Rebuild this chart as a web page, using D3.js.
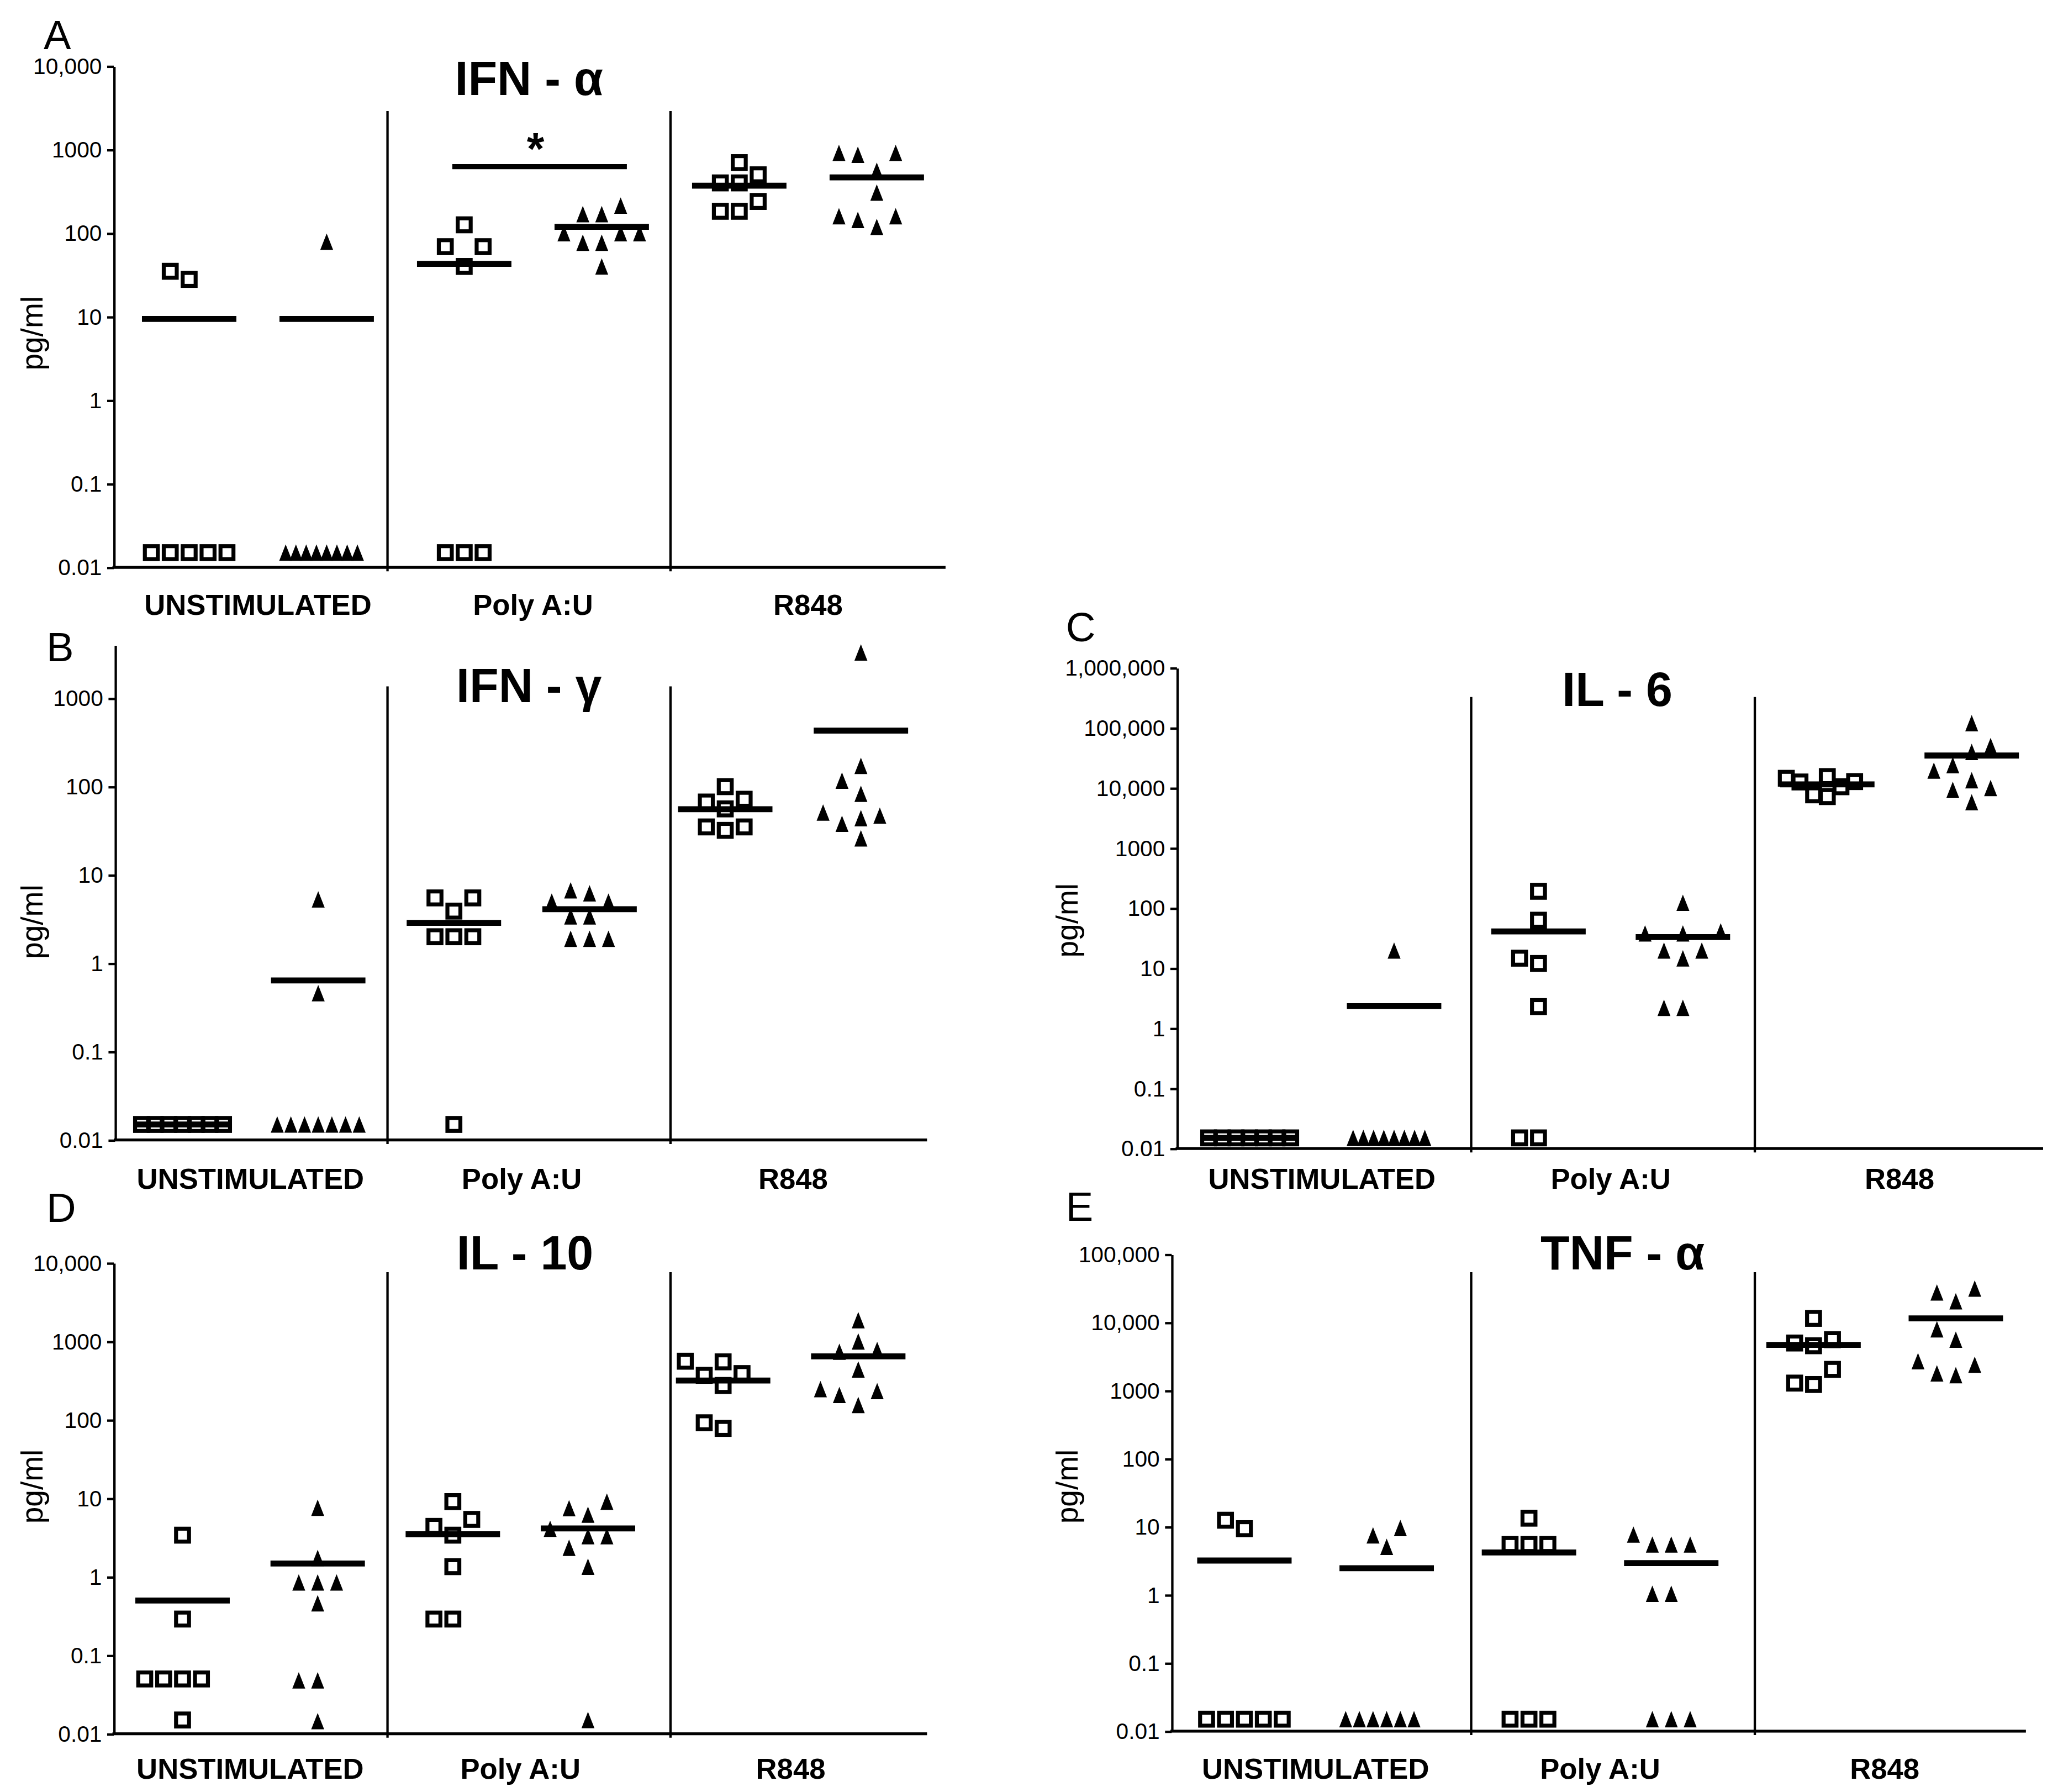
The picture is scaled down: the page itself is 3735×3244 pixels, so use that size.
<!DOCTYPE html>
<meta charset="utf-8">
<style>
html, body { margin: 0; padding: 0; background: #fff; }
svg { display: block; }
text { font-family: 'Liberation Sans', Arial, Helvetica, sans-serif; fill: #000; }
</style>
<body>
<script src="https://cdn.jsdelivr.net/npm/d3@7/dist/d3.min.js"></script>
<script>
// categories and the six columns of each panel (open squares / filled triangles)
var categories = ["UNSTIMULATED", "Poly A:U", "R848"];
var columns = ["unstim_sq", "unstim_tri", "poly_sq", "poly_tri", "r848_sq", "r848_tri"];
var shapes = ["square", "triangle", "square", "triangle", "square", "triangle"];

// values in pg/ml (0.015 = below detection row)
var ifnAlpha = [
  [35, 28, 0.015, 0.015, 0.015, 0.015, 0.015],
  [79, 0.015, 0.015, 0.015, 0.015, 0.015, 0.015, 0.015, 0.015],
  [126, 69, 69, 40, 0.015, 0.015, 0.015],
  [214, 169, 169, 100, 100, 100, 77, 77, 40],
  [700, 500, 400, 400, 240, 183, 183],
  [915, 915, 870, 560, 306, 160, 160, 144, 119]
];
var ifnAlphaMeans = [9.4, 9.4, 43, 119, 371, 465];

var ifnGamma = [
  [0.015, 0.015, 0.015, 0.015, 0.015, 0.015, 0.015],
  [5.3, 0.46, 0.015, 0.015, 0.015, 0.015, 0.015, 0.015, 0.015],
  [5.5, 5.5, 3.9, 2.0, 2.0, 2.0, 0.015],
  [6.7, 6.2, 5.0, 5.0, 3.4, 3.4, 1.9, 1.9, 1.9],
  [100, 72, 67, 56, 35, 35, 32],
  [3300, 172, 117, 83, 51, 47, 44, 38, 26]
];
var ifnGammaMeans = [0.015, 0.64, 2.87, 4.1, 55.5, 430];

var il6 = [
  [0.015, 0.015, 0.015, 0.015, 0.015, 0.015, 0.015],
  [19.7, 0.015, 0.015, 0.015, 0.015, 0.015, 0.015, 0.015, 0.015],
  [191, 63, 14.7, 12, 2.3, 0.015, 0.015],
  [123, 41, 38, 38, 19.7, 19.7, 14.6, 2.2, 2.2],
  [15500, 14500, 12800, 12600, 10500, 7700, 7200],
  [120000, 50000, 40000, 24000, 19500, 13500, 10000, 9300, 5800]
];
var il6Means = [0.015, 2.34, 41, 33, 11500, 34700];

var il10 = [
  [3.4, 0.29, 0.05, 0.05, 0.05, 0.05, 0.015],
  [7.6, 1.74, 0.85, 0.85, 0.85, 0.46, 0.048, 0.048, 0.0145],
  [9.1, 5.4, 4.4, 3.4, 1.35, 0.29, 0.29],
  [9.1, 7.5, 6.2, 4.1, 3.3, 3.3, 2.35, 1.35, 0.015],
  [560, 550, 390, 370, 275, 92, 78],
  [1870, 1000, 780, 740, 440, 247, 233, 208, 155]
];
var il10Means = [0.50, 1.48, 3.5, 4.15, 318, 645];

var tnfAlpha = [
  [12.5, 9.4, 0.015, 0.015, 0.015, 0.015, 0.015],
  [9.6, 7.5, 5.1, 0.015, 0.015, 0.015, 0.015, 0.015, 0.015],
  [13.4, 5.5, 5.5, 5.5, 0.015, 0.015, 0.015],
  [7.7, 5.5, 5.5, 5.5, 1.04, 1.04, 0.015, 0.015, 0.015],
  [11500, 5600, 5000, 4560, 2050, 1290, 1230],
  [31500, 27600, 20500, 7950, 5600, 2700, 2400, 1790, 1690]
];
var tnfAlphaMeans = [3.2, 2.47, 4.2, 2.94, 4690, 11500];

// tick values / labels
var ticks1e3 = [0.01, 0.1, 1, 10, 100, 1000];
var labels1e3 = ["0.01", "0.1", "1", "10", "100", "1000"];
var ticks1e4 = [0.01, 0.1, 1, 10, 100, 1000, 10000];
var labels1e4 = ["0.01", "0.1", "1", "10", "100", "1000", "10,000"];
var ticks1e5 = [0.01, 0.1, 1, 10, 100, 1000, 10000, 100000];
var labels1e5 = ["0.01", "0.1", "1", "10", "100", "1000", "10,000", "100,000"];
var ticks1e6 = [0.01, 0.1, 1, 10, 100, 1000, 10000, 100000, 1000000];
var labels1e6 = ["0.01", "0.1", "1", "10", "100", "1000", "10,000", "100,000", "1,000,000"];
</script>

<script>
// drawing units: 1560 x 1355, scaled up to the 3735 x 3244 window
var W = 1560, H = 1355;
var svg = d3.select("body").append("svg")
  .attr("width", 3735)
  .attr("height", 3244)
  .attr("viewBox", "0 0 " + W + " " + H);

svg.append("rect").attr("width", W).attr("height", H).attr("fill", "#fff");

var panels = [
  { letter: "A", lx: 33, ly: 37, title: "IFN - \u03b1", tx: 400, ty: 72,
    data: ifnAlpha, means: ifnAlphaMeans, ticks: ticks1e4, labels: labels1e4, max: 10000,
    yTop: 50, yBot: 429, x0: 86, x1: 715, p0: 143, p1: 663,
    sepTop: 84, seps: [293, 507], catY: 465, ylx: 32, yly: 252,
    sig: { xa: 342, xb: 474, y: 126, sx: 405, sy: 124 } },
  { letter: "B", lx: 35, ly: 500, title: "IFN - \u03b3", tx: 400, ty: 531,
    data: ifnGamma, means: ifnGammaMeans, ticks: ticks1e3, labels: labels1e3, max: 4000,
    yTop: 487.8, yBot: 862, x0: 87, x1: 701, p0: 138, p1: 651,
    sepTop: 519, seps: [293, 507], catY: 899, ylx: 32, yly: 697 },
  { letter: "C", lx: 806, ly: 485, title: "IL - 6", tx: 1223, ty: 534,
    data: il6, means: il6Means, ticks: ticks1e6, labels: labels1e6, max: 1000000,
    yTop: 505, yBot: 868.4, x0: 890, x1: 1545, p0: 945, p1: 1491,
    sepTop: 527, seps: [1112.5, 1327], catY: 899, ylx: 815, yly: 696 },
  { letter: "D", lx: 35, ly: 924, title: "IL - 10", tx: 397, ty: 960,
    data: il10, means: il10Means, ticks: ticks1e4, labels: labels1e4, max: 10000,
    yTop: 955, yBot: 1311, x0: 86, x1: 701, p0: 138, p1: 649,
    sepTop: 962, seps: [293, 507], catY: 1345, ylx: 32, yly: 1124 },
  { letter: "E", lx: 806, ly: 923, title: "TNF - \u03b1", tx: 1227, ty: 960,
    data: tnfAlpha, means: tnfAlphaMeans, ticks: ticks1e5, labels: labels1e5, max: 100000,
    yTop: 948.5, yBot: 1309, x0: 886, x1: 1532, p0: 941, p1: 1479,
    sepTop: 962, seps: [1112.5, 1327], catY: 1345, ylx: 815, yly: 1124 }
];

// GraphPad-like column scatter: spread points that would overlap
function swarm(values, y, step0, maxHalf, collide) {
  var pts = values.map(function(v) { return { v: v, py: y(v) }; })
    .sort(function(a, b) { return a.v - b.v; });
  var placed = [];
  pts.forEach(function(p) {
    for (var k = 0; ; k++) {
      var slot = k === 0 ? 0 : (k % 2 ? -(k + 1) / 2 : k / 2);
      var hit = placed.some(function(q) { return q.slot === slot && Math.abs(q.py - p.py) < collide; });
      if (!hit) { p.slot = slot; break; }
    }
    placed.push(p);
  });
  var maxSlot = d3.max(pts, function(p) { return Math.abs(p.slot); });
  var step = maxSlot ? Math.min(step0, maxHalf / maxSlot) : step0;
  pts.forEach(function(p) { p.dx = p.slot * step; });
  return pts;
}

var triPath = "M0,-6.2L4.9,6.2L-4.9,6.2Z";

panels.forEach(function(cfg) {
  var g = svg.append("g");
  var y = d3.scaleLog().domain([0.01, cfg.max]).range([cfg.yBot, cfg.yTop]);
  var x = d3.scalePoint().domain(columns).range([cfg.p0, cfg.p1]);
  var s = x.step();
  var cat = d3.scaleBand().domain(categories).range([cfg.p0 - s / 2, cfg.p1 + s / 2]);
  var yBase = y(0.01);

  // panel letter
  g.append("text").attr("x", cfg.lx).attr("y", cfg.ly)
    .attr("font-size", 31).text(cfg.letter);

  // title
  g.append("text").attr("x", cfg.tx).attr("y", cfg.ty)
    .attr("text-anchor", "middle").attr("font-size", 36).attr("font-weight", "bold")
    .text(cfg.title);

  // y axis
  var ax = g.append("g").attr("transform", "translate(" + cfg.x0 + ",0)")
    .call(d3.axisLeft(y).tickValues(cfg.ticks)
      .tickFormat(function(d, i) { return cfg.labels[i]; })
      .tickSize(5).tickPadding(4).tickSizeOuter(0));
  ax.attr("font-size", 17).attr("font-family", "'Liberation Sans', Arial, sans-serif");
  ax.select(".domain").attr("stroke-width", 1.8);
  ax.selectAll(".tick line").attr("stroke-width", 1.8);
  ax.selectAll(".tick text").attr("fill", "#000");

  // y label
  g.append("text")
    .attr("transform", "translate(" + cfg.ylx + "," + cfg.yly + ") rotate(-90)")
    .attr("text-anchor", "middle").attr("font-size", 23).text("pg/ml");

  // x axis line
  g.append("line").attr("x1", cfg.x0 - 1).attr("x2", cfg.x1)
    .attr("y1", yBase).attr("y2", yBase)
    .attr("stroke", "#000").attr("stroke-width", 2.2);

  // separators between stimulation groups
  g.selectAll(".sep").data(cfg.seps).enter().append("line")
    .attr("x1", function(d) { return d; }).attr("x2", function(d) { return d; })
    .attr("y1", cfg.sepTop).attr("y2", yBase + 3)
    .attr("stroke", "#000").attr("stroke-width", 1.8);

  // category labels
  var cx = g.append("g").attr("transform", "translate(0," + cfg.catY + ")")
    .call(d3.axisBottom(cat).tickSize(0).tickPadding(0));
  cx.select(".domain").remove();
  cx.attr("font-size", 22).attr("font-weight", "bold")
    .attr("font-family", "'Liberation Sans', Arial, sans-serif");
  cx.selectAll(".tick text").attr("dy", 0).attr("fill", "#000");

  // points
  columns.forEach(function(col, i) {
    var pts = swarm(cfg.data[i], y, 14.3, 31, 15);
    var cg = g.append("g").attr("transform", "translate(" + x(col) + ",0)");
    if (shapes[i] === "square") {
      cg.selectAll("rect").data(pts).enter().append("rect")
        .attr("x", function(p) { return p.dx - 4.9; })
        .attr("y", function(p) { return p.py - 4.9; })
        .attr("width", 9.8).attr("height", 9.8)
        .attr("fill", "none").attr("stroke", "#000").attr("stroke-width", 3);
    } else {
      cg.selectAll("path").data(pts).enter().append("path")
        .attr("d", triPath)
        .attr("transform", function(p) { return "translate(" + p.dx + "," + p.py + ")"; })
        .attr("fill", "#000");
    }
    // mean line
    cg.append("line").attr("x1", -35.7).attr("x2", 35.7)
      .attr("y1", y(cfg.means[i])).attr("y2", y(cfg.means[i]))
      .attr("stroke", "#000").attr("stroke-width", 4.5);
  });

  // significance bar
  if (cfg.sig) {
    g.append("line").attr("x1", cfg.sig.xa).attr("x2", cfg.sig.xb)
      .attr("y1", cfg.sig.y).attr("y2", cfg.sig.y)
      .attr("stroke", "#000").attr("stroke-width", 3.8);
    g.append("text").attr("x", cfg.sig.sx).attr("y", cfg.sig.sy)
      .attr("text-anchor", "middle").attr("font-size", 34).attr("font-weight", "bold")
      .text("*");
  }
});
</script>
